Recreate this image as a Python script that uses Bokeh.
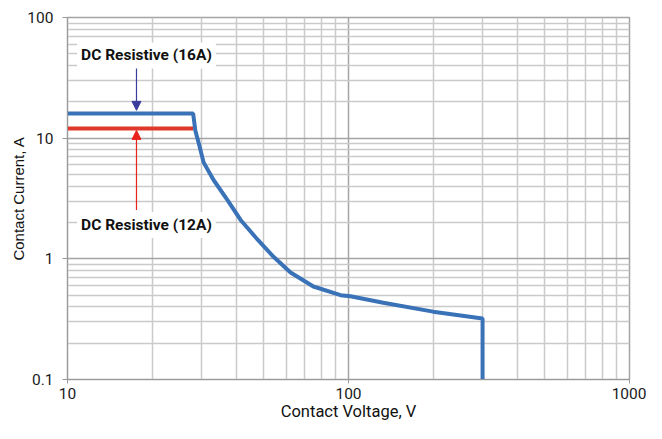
from bokeh.plotting import figure
from bokeh.models import FixedTicker, Label, Arrow, NormalHead, Range1d
from bokeh.embed import file_html
from bokeh.resources import INLINE

# Data
curve_v = [10, 28.0, 28.5, 29.3, 30.5, 33.1, 37.1, 41.3, 47.5, 54.1, 62.2, 75, 93.7, 101.6, 133, 200, 300, 300]
curve_a = [16, 16, 11.6, 9.1, 6.3, 4.5, 3.07, 2.1, 1.44, 1.04, 0.77, 0.59, 0.50, 0.49, 0.433, 0.365, 0.32, 0.1]
red_v = [10, 28.0]
red_a = [12, 12]
x_major = [10, 100, 1000]
y_major = [0.1, 1, 10, 100]
label16 = "DC Resistive (16A)"
label12 = "DC Resistive (12A)"
arrow_x = 17.6
label_x = 19.1
ann16 = [48.5, 38.6, 17.0]   # label y, arrow start, arrow tip
ann12 = [1.91, 2.54, 11.6]

x_minor = [m * d for d in (10, 100) for m in range(2, 10)]
y_minor = [m * d for d in (0.1, 1, 10) for m in range(2, 10)]

p = figure(width=646, height=423, x_axis_type="log", y_axis_type="log",
           x_range=Range1d(10, 1000), y_range=Range1d(0.1, 100),
           output_backend="svg", toolbar_location=None,
           min_border_left=67, min_border_right=17, min_border_top=17, min_border_bottom=43)

p.xaxis.ticker = FixedTicker(ticks=x_major, minor_ticks=x_minor)
p.yaxis.ticker = FixedTicker(ticks=y_major, minor_ticks=y_minor)
p.xaxis.major_label_overrides = {10: "10", 100: "100", 1000: "1000"}
p.yaxis.major_label_overrides = {0.1: "0.1", 1: "1", 10: "10", 100: "100"}

for ax in (p.xaxis, p.yaxis):
    ax.axis_line_color = "#9a9a9a"
    ax.major_tick_line_color = "#9a9a9a"
    ax.minor_tick_line_color = None
    ax.major_tick_in = 0
    ax.major_label_text_font = "Roboto"
    ax.major_label_text_font_size = "15.5px"
    ax.major_label_text_color = "#1a1a1a"
    ax.axis_label_text_font_style = "normal"
    ax.axis_label_text_color = "#111111"

p.xaxis.major_tick_out = 4
p.yaxis.major_tick_out = 5
p.xaxis.axis_label = "Contact Voltage, V"
p.xaxis.axis_label_text_font = "Roboto"
p.xaxis.axis_label_text_font_size = "16.5px"
p.yaxis.axis_label = "Contact Current, A"
p.yaxis.axis_label_text_font = "Liberation Sans"
p.yaxis.axis_label_text_font_size = "15px"
p.xaxis.major_label_standoff = 4
p.yaxis.major_label_standoff = 9
p.xaxis.axis_label_standoff = 0
p.yaxis.axis_label_standoff = -3

for g in (p.xgrid, p.ygrid):
    g.grid_line_color = "#a4a4a4"
    g.grid_line_width = 1.5
    g.minor_grid_line_color = "#cacaca"
    g.minor_grid_line_width = 1.5

p.outline_line_color = "#a4a4a4"
p.outline_line_width = 1.5

p.line(red_v, red_a, line_color="#e0382a", line_width=4)
p.line(curve_v, curve_a, line_color="#3a72b8", line_width=4)

p.add_layout(Arrow(end=NormalHead(size=9, fill_color="#3a3d9c", line_color="#3a3d9c"),
                   x_start=arrow_x, y_start=ann16[1], x_end=arrow_x, y_end=ann16[2],
                   line_color="#3a3d9c", line_width=1.2))
p.add_layout(Arrow(end=NormalHead(size=9, fill_color="#e8221c", line_color="#e8221c"),
                   x_start=arrow_x, y_start=ann12[1], x_end=arrow_x, y_end=ann12[2],
                   line_color="#e8221c", line_width=1.2))

for txt, yy in ((label16, ann16[0]), (label12, ann12[0])):
    p.add_layout(Label(x=label_x, y=yy, text=txt, text_align="center", text_baseline="middle",
                       text_font="Roboto", text_font_style="bold", text_font_size="15.5px",
                       text_color="#111111", background_fill_color="white",
                       border_line_color=None, padding=4))

open("out.html", "w").write(file_html(p, INLINE))
